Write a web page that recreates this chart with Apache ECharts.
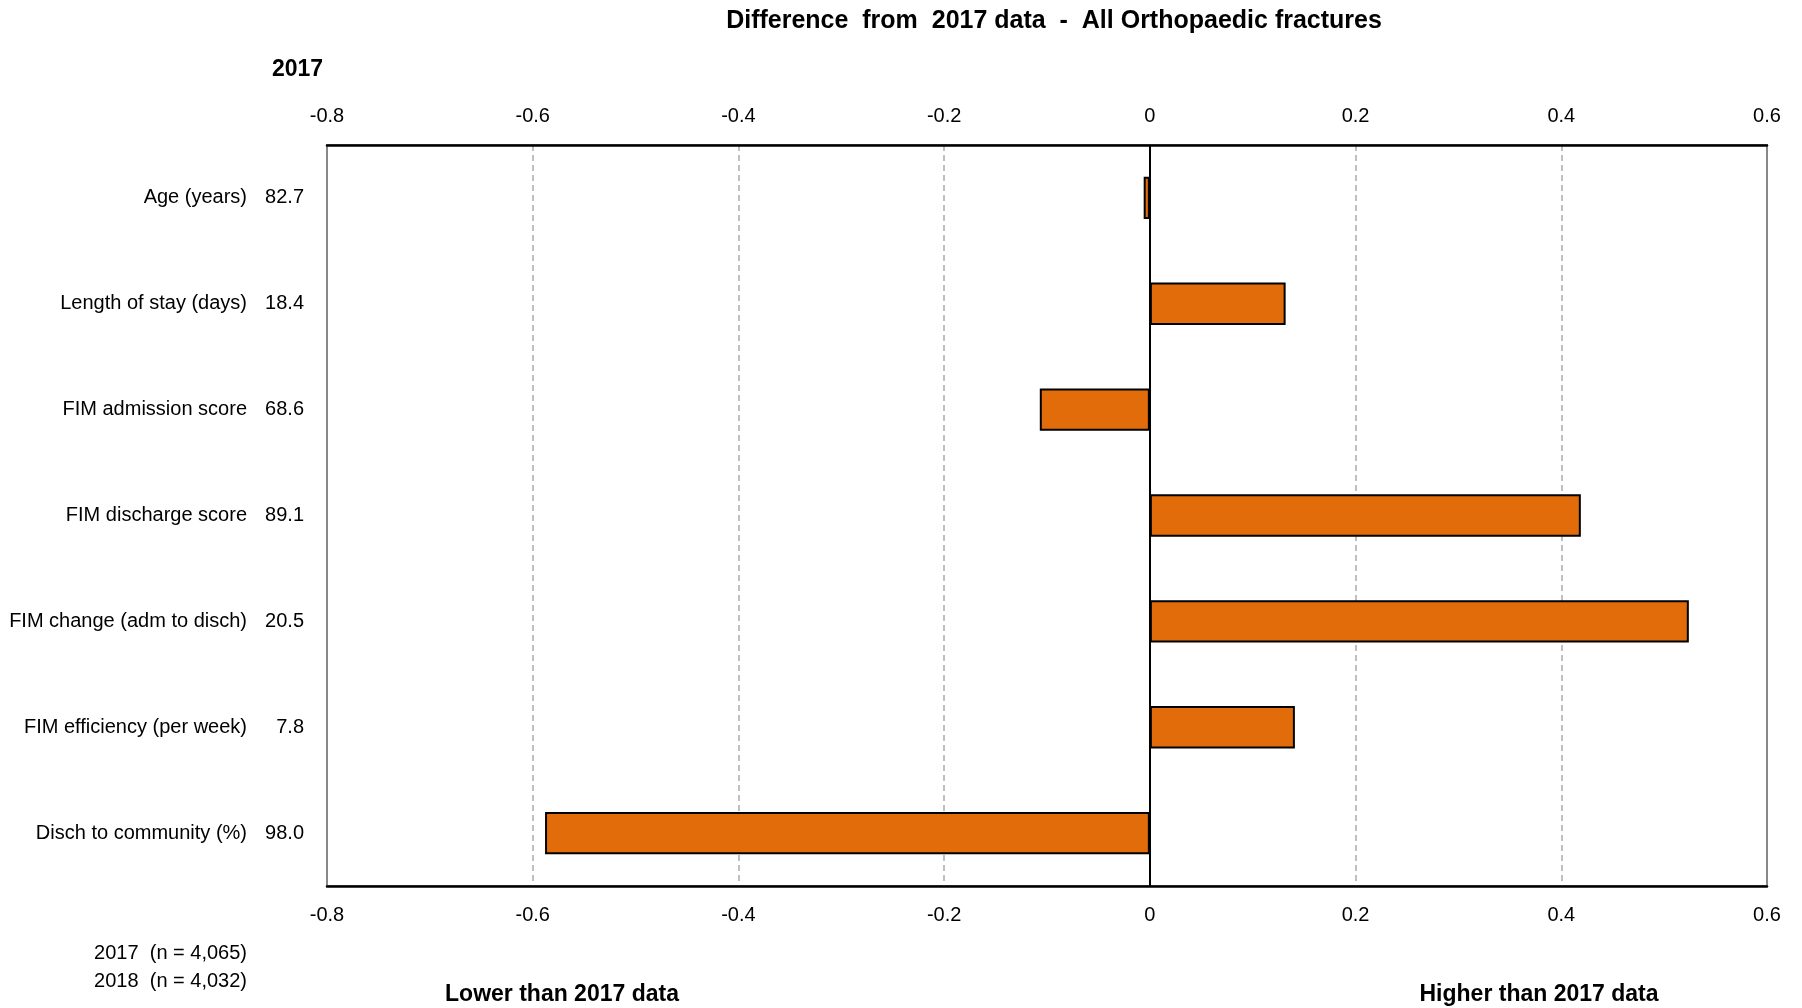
<!DOCTYPE html>
<html>
<head>
<meta charset="utf-8">
<script src="https://cdn.jsdelivr.net/npm/echarts@6/dist/echarts.min.js"></script>
<style>
  html, body { margin: 0; padding: 0; background: #fff; }
  #chart { width: 1802px; height: 1008px; }
</style>
</head>
<body>
<div id="chart"></div>
<script>
const categories = ['Age (years)', 'Length of stay (days)', 'FIM admission score', 'FIM discharge score', 'FIM change (adm to disch)', 'FIM efficiency (per week)', 'Disch to community (%)'];
const values2017 = ['82.7', '18.4', '68.6', '89.1', '20.5', '7.8', '98.0'];
const differences = [-0.006, 0.132, -0.107, 0.419, 0.524, 0.141, -0.588];
const tickLabels = ['-0.8', '-0.6', '-0.4', '-0.2', '0', '0.2', '0.4', '0.6'];
const xMin = -0.8, xMax = 0.6, xStep = 0.2;
const titleText = 'Difference  from  2017 data  -  All Orthopaedic fractures';
const notes = ['2017  (n = 4,065)', '2018  (n = 4,032)'];

const FONT = '"Liberation Sans", Arial, sans-serif';
const tickFmt = v => tickLabels[Math.round((v - xMin) / xStep)] ?? '';

const baseX = {
  type: 'value', min: xMin, max: xMax, interval: xStep,
  axisTick: { show: false },
  axisLine: { show: true, onZero: false, lineStyle: { color: '#000', width: 2.5 } },
  axisLabel: { formatter: tickFmt, color: '#000', fontSize: 20, fontFamily: FONT, margin: 19 }
};

const chart = echarts.init(document.getElementById('chart'), null, { renderer: 'canvas' });
chart.setOption({
  animation: false,
  backgroundColor: '#fff',
  grid: { left: 327, right: 35, top: 145, bottom: 122, show: true, borderColor: '#888', borderWidth: 2, containLabel: false },
  xAxis: [
    Object.assign({}, baseX, { position: 'top',
      splitLine: { show: true, showMinLine: false, showMaxLine: false, lineStyle: { color: '#aaa', type: [6, 4], width: 1.5 } } }),
    Object.assign({}, baseX, { position: 'bottom', splitLine: { show: false } })
  ],
  yAxis: {
    type: 'category', data: categories, inverse: true,
    axisLine: { show: false }, axisTick: { show: false },
    axisLabel: {
      margin: 23,
      formatter: (v, i) => '{a|' + v + '}{b|' + values2017[i] + '}',
      rich: {
        a: { fontSize: 20, fontFamily: FONT, color: '#000' },
        b: { fontSize: 20, fontFamily: FONT, color: '#000', width: 57, align: 'right' }
      }
    }
  },
  series: [{
    type: 'bar', xAxisIndex: 0, data: differences,
    barCategoryGap: '60%',
    itemStyle: { color: '#E36C0A', borderColor: '#000', borderWidth: 2 },
    markLine: {
      silent: true, symbol: ['none', 'none'], label: { show: false },
      lineStyle: { color: '#000', type: 'solid', width: 2 },
      data: [{ xAxis: 0 }]
    }
  }],
  graphic: [
    { type: 'text', x: 1054, y: 21, style: { text: titleText, font: 'bold 25px ' + FONT, fill: '#000', textAlign: 'center', textVerticalAlign: 'middle' } },
    { type: 'text', x: 272, y: 70, style: { text: '2017', font: 'bold 23px ' + FONT, fill: '#000', textAlign: 'left', textVerticalAlign: 'middle' } },
    { type: 'text', x: 247, y: 953, style: { text: notes[0], font: '20px ' + FONT, fill: '#000', textAlign: 'right', textVerticalAlign: 'middle' } },
    { type: 'text', x: 247, y: 981, style: { text: notes[1], font: '20px ' + FONT, fill: '#000', textAlign: 'right', textVerticalAlign: 'middle' } },
    { type: 'text', x: 562, y: 995, style: { text: 'Lower than 2017 data', font: 'bold 23px ' + FONT, fill: '#000', textAlign: 'center', textVerticalAlign: 'middle' } },
    { type: 'text', x: 1539, y: 995, style: { text: 'Higher than 2017 data', font: 'bold 23px ' + FONT, fill: '#000', textAlign: 'center', textVerticalAlign: 'middle' } }
  ]
});
</script>
</body>
</html>
